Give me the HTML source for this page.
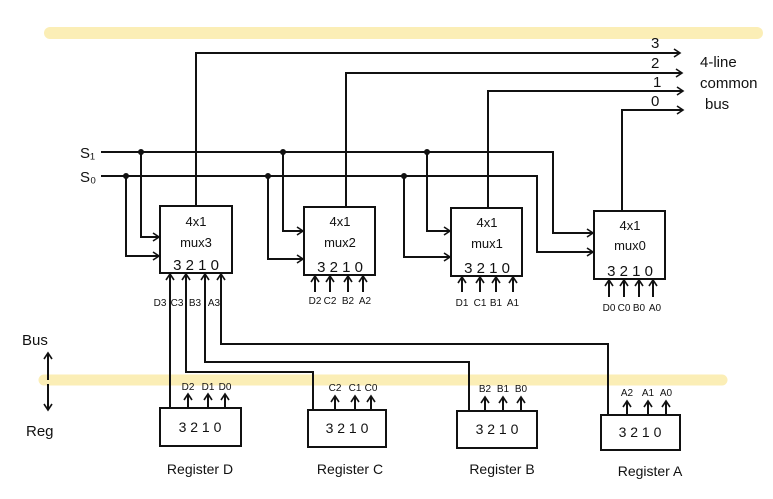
<!DOCTYPE html>
<html><head><meta charset="utf-8"><style>
html,body{margin:0;padding:0;background:#fff;}
svg{display:block;}
text{font-family:"Liberation Sans",sans-serif;fill:#111;}
</style></head><body>
<svg width="773" height="499" viewBox="0 0 773 499" xmlns="http://www.w3.org/2000/svg">
<defs>
<marker id="a" markerWidth="10" markerHeight="10" refX="8" refY="5" orient="auto" markerUnits="userSpaceOnUse">
<path d="M2,1 L8,5 L2,9" fill="none" stroke="#111" stroke-width="1.6"/>
</marker>
</defs>
<line x1="50" y1="33" x2="757" y2="33" stroke="#fbeeb6" stroke-width="12" stroke-linecap="round"/>
<line x1="44" y1="380" x2="722" y2="380" stroke="#fbeeb6" stroke-width="11" stroke-linecap="round"/>

<g fill="none" stroke="#111" stroke-width="2">
<polyline points="196,206 196,53 680,53" marker-end="url(#a)"/>
<polyline points="346,207 346,73 682,73" marker-end="url(#a)"/>
<polyline points="488,208 488,91 683,91" marker-end="url(#a)"/>
<polyline points="622,211 622,110 683,110" marker-end="url(#a)"/>
<polyline points="101,152 553,152 553,233 593,233" marker-end="url(#a)"/>
<polyline points="101,176 537,176 537,252 593,252" marker-end="url(#a)"/>
<polyline points="141,152 141,237 159,237" marker-end="url(#a)"/>
<polyline points="126,176 126,256 159,256" marker-end="url(#a)"/>
<polyline points="283,152 283,231 303,231" marker-end="url(#a)"/>
<polyline points="268,176 268,259 303,259" marker-end="url(#a)"/>
<polyline points="427,152 427,231 450,231" marker-end="url(#a)"/>
<polyline points="404,176 404,257 450,257" marker-end="url(#a)"/>
<rect x="160" y="206" width="72" height="67"/>
<rect x="304" y="207" width="71" height="68"/>
<rect x="451" y="208" width="71" height="68"/>
<rect x="594" y="211" width="71" height="68"/>
<polyline points="170,408 170,274" marker-end="url(#a)"/>
<polyline points="313,409 313,372 186,372 186,274" marker-end="url(#a)"/>
<polyline points="469,411 469,362 205,362 205,274" marker-end="url(#a)"/>
<polyline points="608,415 608,344 221,344 221,274" marker-end="url(#a)"/>
<line x1="315" y1="292" x2="315" y2="276" marker-end="url(#a)"/>
<line x1="330" y1="292" x2="330" y2="276" marker-end="url(#a)"/>
<line x1="348" y1="292" x2="348" y2="276" marker-end="url(#a)"/>
<line x1="363" y1="292" x2="363" y2="276" marker-end="url(#a)"/>
<line x1="462" y1="292" x2="462" y2="277" marker-end="url(#a)"/>
<line x1="480" y1="292" x2="480" y2="277" marker-end="url(#a)"/>
<line x1="496" y1="292" x2="496" y2="277" marker-end="url(#a)"/>
<line x1="513" y1="292" x2="513" y2="277" marker-end="url(#a)"/>
<line x1="609" y1="297" x2="609" y2="280" marker-end="url(#a)"/>
<line x1="624" y1="297" x2="624" y2="280" marker-end="url(#a)"/>
<line x1="639" y1="297" x2="639" y2="280" marker-end="url(#a)"/>
<line x1="653" y1="297" x2="653" y2="280" marker-end="url(#a)"/>
<rect x="160" y="408" width="81" height="38"/>
<rect x="308" y="410" width="78" height="37"/>
<rect x="457" y="411" width="80" height="37"/>
<rect x="601" y="415" width="79" height="35"/>
<line x1="188" y1="408" x2="188" y2="394" marker-end="url(#a)"/>
<line x1="208" y1="408" x2="208" y2="394" marker-end="url(#a)"/>
<line x1="225" y1="408" x2="225" y2="394" marker-end="url(#a)"/>
<line x1="335" y1="410" x2="335" y2="396" marker-end="url(#a)"/>
<line x1="355" y1="410" x2="355" y2="396" marker-end="url(#a)"/>
<line x1="371" y1="410" x2="371" y2="396" marker-end="url(#a)"/>
<line x1="485" y1="411" x2="485" y2="397" marker-end="url(#a)"/>
<line x1="503" y1="411" x2="503" y2="397" marker-end="url(#a)"/>
<line x1="521" y1="411" x2="521" y2="397" marker-end="url(#a)"/>
<line x1="627" y1="415" x2="627" y2="401" marker-end="url(#a)"/>
<line x1="648" y1="415" x2="648" y2="401" marker-end="url(#a)"/>
<line x1="666" y1="415" x2="666" y2="401" marker-end="url(#a)"/>
<line x1="48" y1="380" x2="48" y2="353" marker-end="url(#a)"/>
<line x1="48" y1="384" x2="48" y2="410" marker-end="url(#a)"/>
</g>
<g fill="#111">
<circle cx="141" cy="152" r="3"/><circle cx="283" cy="152" r="3"/><circle cx="427" cy="152" r="3"/>
<circle cx="126" cy="176" r="3"/><circle cx="268" cy="176" r="3"/><circle cx="404" cy="176" r="3"/>
</g>

<g font-size="15">
<text x="80" y="158">S₁</text>
<text x="80" y="182">S₀</text>
<text x="651" y="48">3</text><text x="651" y="68">2</text><text x="653" y="87">1</text><text x="651" y="106">0</text>
<text x="700" y="67">4-line</text>
<text x="700" y="88">common</text>
<text x="705" y="109">bus</text>
<text x="22" y="345">Bus</text>
<text x="26" y="436">Reg</text>
</g>
<g font-size="13" text-anchor="middle">
<text x="196" y="226">4x1</text><text x="196" y="247">mux3</text><text x="196" y="270" font-size="15">3 2 1 0</text>
<text x="340" y="226">4x1</text><text x="340" y="247">mux2</text><text x="340" y="272" font-size="15">3 2 1 0</text>
<text x="487" y="227">4x1</text><text x="487" y="248">mux1</text><text x="487" y="273" font-size="15">3 2 1 0</text>
<text x="630" y="230">4x1</text><text x="630" y="250">mux0</text><text x="630" y="276" font-size="15">3 2 1 0</text>
</g>
<g font-size="10" text-anchor="middle">
<text x="160" y="306">D3</text><text x="177" y="306">C3</text><text x="195" y="306">B3</text><text x="214" y="306">A3</text>
<text x="315" y="304">D2</text><text x="330" y="304">C2</text><text x="348" y="304">B2</text><text x="365" y="304">A2</text>
<text x="462" y="306">D1</text><text x="480" y="306">C1</text><text x="496" y="306">B1</text><text x="513" y="306">A1</text>
<text x="609" y="311">D0</text><text x="624" y="311">C0</text><text x="639" y="311">B0</text><text x="655" y="311">A0</text>
<text x="188" y="390">D2</text><text x="208" y="390">D1</text><text x="225" y="390">D0</text>
<text x="335" y="391">C2</text><text x="355" y="391">C1</text><text x="371" y="391">C0</text>
<text x="485" y="392">B2</text><text x="503" y="392">B1</text><text x="521" y="392">B0</text>
<text x="627" y="396">A2</text><text x="648" y="396">A1</text><text x="666" y="396">A0</text>
</g>
<g font-size="14" text-anchor="middle">
<text x="200" y="432">3 2 1 0</text>
<text x="347" y="433">3 2 1 0</text>
<text x="497" y="434">3 2 1 0</text>
<text x="640" y="437">3 2 1 0</text>
<text x="200" y="474">Register D</text>
<text x="350" y="474">Register C</text>
<text x="502" y="474">Register B</text>
<text x="650" y="476">Register A</text>
</g>
</svg>
</body></html>
